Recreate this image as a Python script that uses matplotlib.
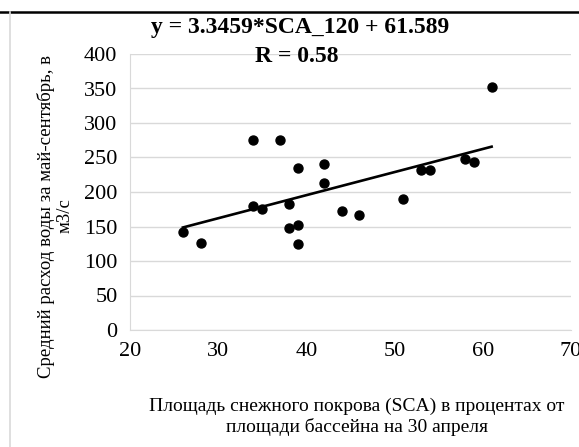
import numpy as np
import matplotlib.pyplot as plt
from matplotlib.lines import Line2D

plt.rcParams['font.family'] = ['Liberation Serif', 'DejaVu Serif']

# Data
sca = [26, 28, 34, 37, 39, 42, 42, 34, 35, 38, 38, 39, 39,
       44, 46, 51, 53, 54, 58, 59, 61]
flow = [142, 126, 275, 276, 235, 240, 213, 180, 175, 182, 148, 152, 125,
        173, 167, 190, 232, 232, 248, 244, 352]
slope, intercept = 3.3459, 61.589

fig = plt.figure(figsize=(5.79, 4.47), dpi=100)
ax = fig.add_axes([130/579, 1 - 330/447, (571 - 130)/579, (330 - 54)/447])

ax.scatter(sca, flow, s=42, color='black', zorder=3)
x_fit = np.array([min(sca), max(sca)])
ax.plot(x_fit, slope * x_fit + intercept, color='black', lw=1.9, zorder=2)

ax.set_xlim(20, 70)
ax.set_ylim(0, 400)
ax.set_xticks(range(20, 71, 10))
ax.set_yticks(range(0, 401, 50))
ax.grid(axis='y', color='#d9d9d9', lw=1)
ax.set_axisbelow(True)
for s in ['top', 'right']:
    ax.spines[s].set_visible(False)
for s in ['left', 'bottom']:
    ax.spines[s].set_color('#d9d9d9')
ax.tick_params(length=0, labelsize=16)
ax.tick_params(axis='x', pad=9)
ax.tick_params(axis='y', pad=9)

fig.text(300/579, 1 - 27/447, 'y = 3.3459*SCA_120 + 61.589', ha='center', va='center',
         fontsize=17, fontweight='bold')
fig.text(297/579, 1 - 57/447, 'R = 0.58', ha='center', va='center',
         fontsize=17, fontweight='bold')

fig.text(55/579, 1 - 216/447, 'Средний расход воды за май-сентябрь, в\nм3/с',
         rotation=90, ha='center', va='center', ma='center', fontsize=13.5, linespacing=1.15)
fig.text(357/579, 1 - 417/447, 'Площадь снежного покрова (SCA) в процентах от\nплощади бассейна на 30 апреля',
         ha='center', va='center', ma='center', fontsize=14, linespacing=1.2)

# frame lines
fig.add_artist(Line2D([0, 1], [1 - 11.5/447] * 2, color='black', lw=1.8))
fig.add_artist(Line2D([10/579] * 2, [0, 1 - 12/447], color='#d9d9d9', lw=1.2))

fig.savefig('out.png', dpi=100)
